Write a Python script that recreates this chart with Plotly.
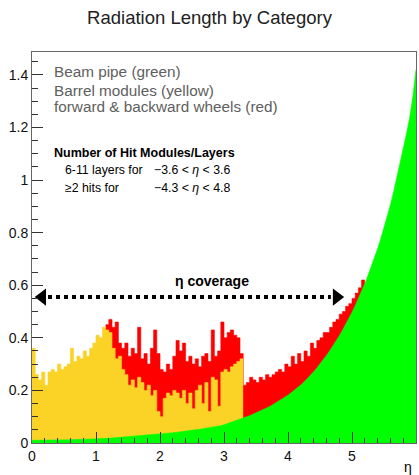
import numpy as np
import plotly.graph_objects as go

BIN = 0.05

# Beam pipe (green): stacked value at bin edges 0.00 ... 6.00
beam_pipe = [
    0.010, 0.010, 0.010, 0.010, 0.010, 0.010, 0.011, 0.011, 0.011, 0.011,
    0.012, 0.012, 0.012, 0.013, 0.013, 0.013, 0.014, 0.014, 0.015, 0.015,
    0.016, 0.016, 0.017, 0.018, 0.018, 0.019, 0.020, 0.020, 0.021, 0.022,
    0.023, 0.024, 0.025, 0.026, 0.027, 0.028, 0.029, 0.030, 0.031, 0.032,
    0.033, 0.035, 0.036, 0.037, 0.039, 0.040, 0.042, 0.044, 0.045, 0.047,
    0.048, 0.050, 0.051, 0.053, 0.054, 0.056, 0.058, 0.060, 0.063, 0.066,
    0.069, 0.073, 0.077, 0.081, 0.086, 0.091, 0.096, 0.100, 0.104, 0.109,
    0.114, 0.119, 0.125, 0.131, 0.137, 0.144, 0.151, 0.158, 0.166, 0.174,
    0.182, 0.191, 0.200, 0.210, 0.221, 0.232, 0.244, 0.257, 0.271, 0.285,
    0.300, 0.316, 0.333, 0.350, 0.368, 0.387, 0.407, 0.428, 0.450, 0.473,
    0.497, 0.522, 0.549, 0.577, 0.606, 0.637, 0.669, 0.703, 0.739, 0.777,
    0.817, 0.859, 0.905, 0.955, 1.008, 1.062, 1.118, 1.175, 1.235, 1.315,
    1.420,
]

# Barrel modules (yellow): stacked top per bin, bins starting at 0.00 ... 3.25
barrel_start = 0.0
barrel_top = [
    0.36, 0.26, 0.24, 0.27, 0.22, 0.27, 0.28, 0.27, 0.30, 0.28,
    0.29, 0.30, 0.36, 0.31, 0.33, 0.32, 0.35, 0.33, 0.36, 0.38,
    0.41, 0.40, 0.44, 0.43, 0.42, 0.36, 0.32, 0.33, 0.28, 0.26,
    0.22, 0.24, 0.21, 0.25, 0.23, 0.20, 0.22, 0.18, 0.20, 0.12,
    0.10, 0.17, 0.19, 0.18, 0.20, 0.19, 0.17, 0.20, 0.15, 0.19,
    0.13, 0.20, 0.22, 0.15, 0.23, 0.12, 0.25, 0.24, 0.14, 0.27,
    0.28, 0.27, 0.29, 0.30, 0.31, 0.32,
]

# Forward & backward wheels (red): stacked top per bin, bins starting at 1.15 ... 5.15
wheels_start = 1.15
wheels_top = [
    0.45, 0.47, 0.44, 0.46, 0.38, 0.36, 0.38, 0.33, 0.36, 0.34,
    0.44, 0.32, 0.34, 0.30, 0.36, 0.43, 0.34, 0.28, 0.27, 0.30,
    0.28, 0.33, 0.39, 0.35, 0.38, 0.31, 0.33, 0.30, 0.32, 0.29,
    0.33, 0.34, 0.31, 0.43, 0.33, 0.35, 0.46, 0.40, 0.42, 0.43,
    0.41, 0.40, 0.34, 0.22, 0.23, 0.25, 0.24, 0.23, 0.25, 0.24,
    0.26, 0.25, 0.26, 0.27, 0.28, 0.27, 0.30, 0.29, 0.33, 0.30,
    0.34, 0.31, 0.35, 0.33, 0.38, 0.36, 0.39, 0.40, 0.42, 0.42,
    0.44, 0.46, 0.47, 0.49, 0.50, 0.52, 0.53, 0.55, 0.57, 0.59,
    0.62,
]

GREEN = "#00ff00"
YELLOW = "#fad326"
RED = "#ff0000"
FONT = "Liberation Sans, Arial, Helvetica, sans-serif"


def step_xy(start, values):
    n = len(values)
    x = list(np.round(start + BIN * np.arange(n + 1), 4))
    y = list(values) + [values[-1]]
    return x, y


fig = go.Figure()

wx, wy = step_xy(wheels_start, wheels_top)
fig.add_trace(go.Scatter(x=wx, y=wy, mode="lines", line=dict(shape="hv", width=0.6, color=RED),
                         fill="tozeroy", fillcolor=RED, hoverinfo="skip", showlegend=False))

bx, by = step_xy(barrel_start, barrel_top)
fig.add_trace(go.Scatter(x=bx, y=by, mode="lines", line=dict(shape="hv", width=0.6, color=YELLOW),
                         fill="tozeroy", fillcolor=YELLOW, hoverinfo="skip", showlegend=False))

gx = list(np.round(BIN * np.arange(len(beam_pipe)), 4))
fig.add_trace(go.Scatter(x=gx, y=beam_pipe, mode="lines", line=dict(width=0.6, color=GREEN),
                         fill="tozeroy", fillcolor=GREEN, hoverinfo="skip", showlegend=False))

# eta coverage arrow
arrow_y = 0.555
arrow_x = [0.16, 4.76]
fig.add_shape(type="line", x0=0.25, x1=4.67, y0=arrow_y, y1=arrow_y, xref="x", yref="y",
              line=dict(color="black", width=4, dash="dot"))
fig.add_trace(go.Scatter(x=arrow_x, y=[arrow_y, arrow_y], mode="markers",
                         marker=dict(symbol=["triangle-left", "triangle-right"], size=15, color="black"),
                         hoverinfo="skip", showlegend=False))

ann = []
gray = "#606060"
for txt, yy in [("Beam pipe (green)", 1.411), ("Barrel modules (yellow)", 1.342),
                ("forward &amp; backward wheels (red)", 1.278)]:
    ann.append(dict(x=0.31, y=yy, xref="x", yref="y", text=txt, showarrow=False,
                    xanchor="left", yanchor="middle", font=dict(size=15.3, color=gray, family=FONT)))
ann.append(dict(x=0.31, y=1.103, xref="x", yref="y", text="<b>Number of Hit Modules/Layers</b>",
                showarrow=False, xanchor="left", yanchor="middle", font=dict(size=12.5, color="black", family=FONT)))
ann.append(dict(x=0.48, y=1.038, xref="x", yref="y", text="6-11 layers for", showarrow=False,
                xanchor="left", yanchor="middle", font=dict(size=12.3, color="black", family=FONT)))
ann.append(dict(x=1.87, y=1.038, xref="x", yref="y", text="\u22123.6 &lt; <i>\u03b7</i> &lt; 3.6", showarrow=False,
                xanchor="left", yanchor="middle", font=dict(size=12.3, color="black", family=FONT)))
ann.append(dict(x=0.48, y=0.970, xref="x", yref="y", text="\u22652 hits for", showarrow=False,
                xanchor="left", yanchor="middle", font=dict(size=12.3, color="black", family=FONT)))
ann.append(dict(x=1.87, y=0.970, xref="x", yref="y", text="\u22124.3 &lt; <i>\u03b7</i> &lt; 4.8", showarrow=False,
                xanchor="left", yanchor="middle", font=dict(size=12.3, color="black", family=FONT)))
ann.append(dict(x=2.81, y=0.616, xref="x", yref="y", text="<b>\u03b7 coverage</b>", showarrow=False,
                xanchor="center", yanchor="middle", font=dict(size=14, color="black", family=FONT)))
ann.append(dict(x=0.979, y=-0.061, xref="paper", yref="paper", text="\u03b7", showarrow=False,
                xanchor="center", yanchor="middle", font=dict(size=14, color="black", family=FONT)))

fig.update_layout(
    width=419, height=475,
    margin=dict(l=32, r=3, t=52, b=32),
    paper_bgcolor="white", plot_bgcolor="white",
    title=dict(text="Radiation Length by Category", x=0.5, xref="container", xanchor="center",
               y=1 - 18 / 475, yref="container", yanchor="middle",
               font=dict(size=18.5, color="#222", family=FONT)),
    annotations=ann,
    showlegend=False,
    font=dict(family=FONT),
)
axis_common = dict(showgrid=False, zeroline=False, showline=True, linecolor="#666", linewidth=1,
                   mirror=True, ticks="inside", tickcolor="#333", tickwidth=1,
                   tickfont=dict(size=14, color="#111", family=FONT))
fig.update_xaxes(range=[0, 6], dtick=1, tick0=0, ticklen=11,
                 minor=dict(dtick=0.2, ticks="inside", ticklen=5, tickcolor="#333"), **axis_common)
fig.update_yaxes(range=[0, 1.487], dtick=0.2, tick0=0, ticklen=11,
                 minor=dict(dtick=0.05, ticks="inside", ticklen=6, tickcolor="#333"), **axis_common)

fig.write_html("out.html")
